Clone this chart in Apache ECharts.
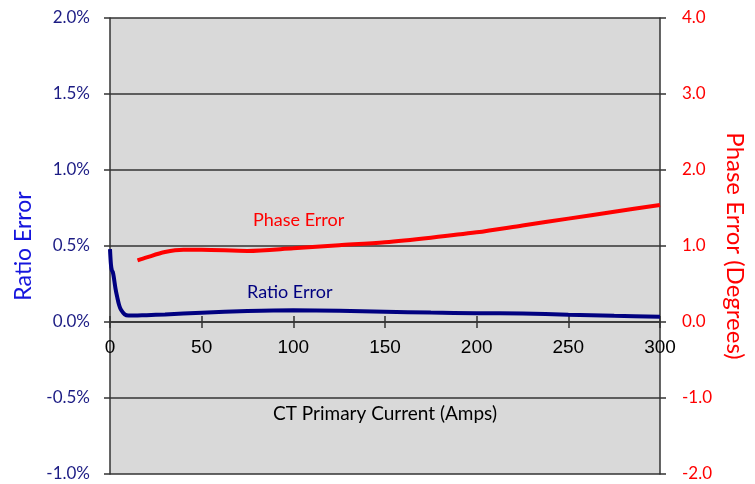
<!DOCTYPE html>
<html><head><meta charset="utf-8">
<script src="https://cdn.jsdelivr.net/npm/echarts@6/dist/echarts.min.js"></script>
<style>html,body{margin:0;padding:0;background:#fff}#c{width:755px;height:484px}</style>
</head><body><div id="c"></div>
<script>
// Ratio error (percent) vs primary current (A)
const ratioCurrent = [0, 0.5, 1, 1.5, 2, 3, 4, 5, 6, 8, 10, 15, 20, 30, 50, 75, 100, 125, 150, 175, 200, 225, 250, 275, 300];
const ratioError   = [0.48, 0.38, 0.34, 0.33, 0.30, 0.22, 0.16, 0.11, 0.08, 0.05, 0.042, 0.043, 0.045, 0.05, 0.061, 0.072, 0.077, 0.074, 0.068, 0.062, 0.058, 0.056, 0.048, 0.041, 0.035];
// Phase error (degrees) vs primary current (A)
const phaseCurrent = [15, 20, 30, 40, 50, 75, 100, 125, 150, 175, 200, 225, 250, 275, 300];
const phaseError   = [0.81, 0.85, 0.92, 0.95, 0.95, 0.935, 0.97, 1.01, 1.05, 1.11, 1.18, 1.27, 1.36, 1.45, 1.54];
const xTicks = [0, 50, 100, 150, 200, 250, 300];

const chart = echarts.init(document.getElementById('c'));
const axisColor = '#333';
chart.setOption({
  animation: false,
  backgroundColor: '#fff',
  grid: { left: 110, right: 95, top: 18, bottom: 10, show: true, backgroundColor: '#d9d9d9', borderWidth: 0,
          outerBoundsMode: 'none', containLabel: false },
  xAxis: [{
    type: 'value', min: 0, max: 300, interval: 50, position: 'bottom', offset: -152,
    axisLine: { show: true, onZero: false, lineStyle: { color: axisColor, width: 1.5 } },
    axisTick: { show: true, length: 6, lineStyle: { color: axisColor, width: 1.5 } },
    axisLabel: { color: '#000', fontFamily: 'Liberation Sans', fontSize: 19, margin: 16,
      formatter: v => xTicks.includes(v) ? String(v) : '' },
    splitLine: { show: false },
    name: 'CT Primary Current (Amps)', nameLocation: 'middle', nameGap: 82,
    nameTextStyle: { color: '#000', fontFamily: 'Lato', fontSize: 19 }
  }, {
    type: 'value', min: 0, max: 300, interval: 50, position: 'top', offset: -304,
    axisLine: { show: false, onZero: false },
    axisTick: { show: true, length: 6, lineStyle: { color: axisColor, width: 1.5 } },
    axisLabel: { show: false }, splitLine: { show: false }
  }],
  yAxis: [{
    type: 'value', min: -1, max: 2, interval: 0.5, position: 'left',
    axisLine: { show: true, onZero: false, lineStyle: { color: axisColor, width: 1.5 } },
    axisTick: { show: true, length: 6, lineStyle: { color: axisColor, width: 1.5 } },
    axisLabel: { color: '#1c1c84', fontFamily: 'Lato', fontSize: 17, margin: 20, formatter: v => v.toFixed(1) + '%' },
    splitLine: { show: true, lineStyle: { color: '#333', width: 1.5 } },
    name: 'Ratio Error', nameLocation: 'middle', nameGap: 72,
    nameTextStyle: { color: '#1515dd', fontFamily: 'Lato', fontSize: 23 }
  }, {
    type: 'value', min: -2, max: 4, interval: 1, position: 'right',
    axisLine: { show: true, onZero: false, lineStyle: { color: axisColor, width: 1.5 } },
    axisTick: { show: true, length: 6, lineStyle: { color: axisColor, width: 1.5 } },
    axisLabel: { color: '#ff0000', fontFamily: 'Lato', fontSize: 17, margin: 22, formatter: v => v.toFixed(1) },
    splitLine: { show: false },
    name: 'Phase Error (Degrees)', nameLocation: 'middle', nameGap: 58, nameRotate: -90,
    nameTextStyle: { color: '#ff0000', fontFamily: 'Lato', fontSize: 24 }
  }],
  series: [{
    name: 'Ratio Error', type: 'line', xAxisIndex: 0, yAxisIndex: 0, smooth: 0.3, showSymbol: false,
    lineStyle: { color: '#000080', width: 4 },
    data: ratioCurrent.map((x, i) => [x, ratioError[i]])
  }, {
    name: 'Phase Error', type: 'line', xAxisIndex: 0, yAxisIndex: 1, smooth: 0.3, showSymbol: false,
    lineStyle: { color: '#ff0000', width: 4 },
    data: phaseCurrent.map((x, i) => [x, phaseError[i]])
  }],
  graphic: [
    { type: 'text', left: 253, top: 211, style: { text: 'Phase Error', fill: '#ff0000', font: '18px Lato' } },
    { type: 'text', left: 247, top: 283, style: { text: 'Ratio Error', fill: '#000080', font: '18px Lato' } }
  ]
});
</script></body></html>
